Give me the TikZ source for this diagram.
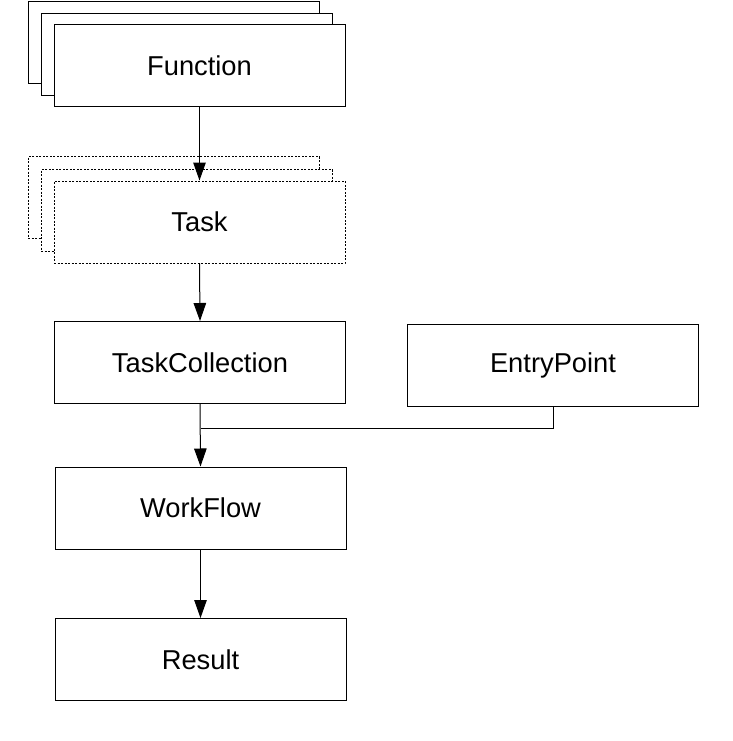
\documentclass[tikz,border=0pt]{standalone}
\usepackage{fontspec}
\setmainfont{Liberation Sans}
\usetikzlibrary{arrows.meta}
\begin{document}
\begin{tikzpicture}[x=1pt,y=-1pt,
  box/.style={draw=black,line width=1pt,fill=white,minimum width=291pt,minimum height=82pt,inner sep=0pt,font=\fontsize{27.3}{30}\selectfont,anchor=north west},
  dotbox/.style={box,dash pattern=on 2pt off 1.5pt},
  arr/.style={line width=1pt,-{Triangle[length=18pt,width=12.5pt]}},
  line/.style={line width=1pt}]
\useasboundingbox (0,0) rectangle (732,741);
% Function stack
\node[box] (f3) at (28,1) {};
\node[box] (f2) at (41,13) {};
\node[box] (f1) at (53.5,24.5) {Function};
% Task stack
\node[dotbox] (t3) at (27.5,156) {};
\node[dotbox] (t2) at (40.5,169) {};
\node[dotbox] (t1) at (53.5,180.5) {Task};
% others
\node[box] (tc) at (54,321) {TaskCollection};
\node[box] (ep) at (407,323.5) {EntryPoint};
\node[box] (wf) at (54.5,466.5) {WorkFlow};
\node[box] (rs) at (54.5,618) {Result};
% connectors
\draw[arr] (f1.south) -- (t1.north);
\draw[arr] (t1.south) -- (tc.north);
\draw[arr] (tc.south) -- (wf.north);
\coordinate (join) at (wf.north |- 0,428.5);
\draw[line] (ep.south) |- (join);
\draw[arr] (wf.south) -- (rs.north);
\end{tikzpicture}
\end{document}
